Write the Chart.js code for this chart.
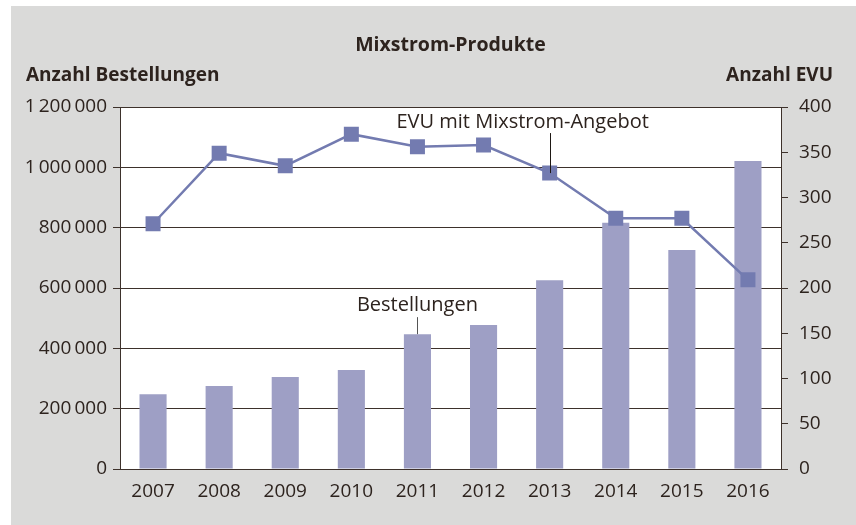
<!DOCTYPE html>
<html>
<head>
<meta charset="utf-8">
<script src="https://cdn.jsdelivr.net/npm/chart.js@4/dist/chart.umd.min.js"></script>
<style>
  html, body { margin: 0; padding: 0; background: #fff; }
  #box { position: absolute; left: 11px; top: 6px; width: 845px; height: 519px; background: #dadad9; }
  #plot { position: absolute; background: #ffffff; }
  #mix { position: absolute; left: 0; top: 0; }
</style>
</head>
<body>
<div id="box"><div id="plot"></div><canvas id="mix" width="845" height="519"></canvas></div>
<script>
const years = ['2007', '2008', '2009', '2010', '2011', '2012', '2013', '2014', '2015', '2016'];
const orders = [248000, 275000, 305000, 328000, 447000, 477000, 626000, 816000, 726000, 1021000];
const evuCount = [271, 349, 335, 370, 356, 358, 327, 277, 277, 209];

const chartTitle = 'Mixstrom-Produkte';
const leftTitle = 'Anzahl Bestellungen';
const rightTitle = 'Anzahl EVU';
const lineLabel = 'EVU mit Mixstrom-Angebot';
const barLabel = 'Bestellungen';

const textColor = '#2d231e';
const gridColor = '#3d312b';
const font = '"Open Sans", "DejaVu Sans", sans-serif';

const fmt = (v) => String(v).replace(/\B(?=(\d{3})+(?!\d))/g, '\u2009');

// white plot area: a div under the canvas, sized from the chart area
const plotBg = {
  id: 'plotBg',
  afterLayout(chart) {
    const a = chart.chartArea;
    const el = document.getElementById('plot');
    el.style.left = a.left + 'px';
    el.style.top = a.top + 'px';
    el.style.width = (a.right - a.left) + 'px';
    el.style.height = (a.bottom - a.top) + 'px';
  }
};

// titles and the two callouts
const labelsPlugin = {
  id: 'labels',
  afterDraw(chart) {
    const ctx = chart.ctx;
    const area = chart.chartArea;
    ctx.save();
    ctx.fillStyle = textColor;
    ctx.textBaseline = 'middle';
    ctx.font = 'bold 19.5px ' + font;
    ctx.textAlign = 'center';
    ctx.fillText(chartTitle, (area.left + area.right) / 2, 39);
    ctx.font = 'bold 19px ' + font;
    ctx.textAlign = 'left';
    ctx.fillText(leftTitle, 15, 70);
    ctx.textAlign = 'right';
    ctx.fillText(rightTitle, 822, 70);

    ctx.font = '20px ' + font;
    ctx.textAlign = 'center';
    ctx.strokeStyle = '#1e1814';
    ctx.lineWidth = 1;

    // line callout at 2013
    const p = chart.getDatasetMeta(0).data[6];
    ctx.fillText(lineLabel, p.x - 27, p.y - 51);
    ctx.beginPath();
    ctx.moveTo(Math.round(p.x) + 0.5, p.y - 40);
    ctx.lineTo(Math.round(p.x) + 0.5, p.y);
    ctx.stroke();

    // bar callout at 2011
    const b = chart.getDatasetMeta(1).data[4];
    ctx.fillText(barLabel, b.x, b.y - 29);
    ctx.strokeStyle = '#555';
    ctx.beginPath();
    ctx.moveTo(Math.round(b.x) + 0.5, b.y - 17);
    ctx.lineTo(Math.round(b.x) + 0.5, b.y);
    ctx.stroke();
    ctx.restore();
  }
};

new Chart(document.getElementById('mix'), {
  data: {
    labels: years,
    datasets: [
      {
        type: 'line',
        data: evuCount,
        yAxisID: 'y1',
        order: 0,
        borderColor: '#737bb0',
        borderWidth: 2.5,
        backgroundColor: '#737bb0',
        pointStyle: 'rect',
        pointRadius: 10.6,
        pointBorderWidth: 0,
        tension: 0
      },
      {
        type: 'bar',
        data: orders,
        yAxisID: 'y',
        order: 1,
        backgroundColor: '#9e9fc5',
        barPercentage: 0.41,
        categoryPercentage: 1
      }
    ]
  },
  options: {
    responsive: false,
    animation: false,
    devicePixelRatio: 1,
    layout: { padding: { top: 101, left: 0, right: 0, bottom: 0 } },
    plugins: { legend: { display: false }, tooltip: { enabled: false }, title: { display: false } },
    scales: {
      x: {
        offset: true,
        grid: { display: false },
        border: { display: true, color: gridColor, width: 1 },
        ticks: { color: textColor, padding: 3, font: { family: font, size: 19 } },
        afterFit: (s) => { s.height = 56; }
      },
      y: {
        position: 'left',
        min: 0,
        max: 1200000,
        grid: { color: gridColor, lineWidth: 1, tickLength: 7 },
        border: { display: true, color: gridColor, width: 1 },
        ticks: { stepSize: 200000, color: textColor, padding: 6, font: { family: font, size: 19 }, callback: (v) => fmt(v) },
        afterFit: (s) => { s.width = 109; }
      },
      y1: {
        position: 'right',
        min: 0,
        max: 400,
        grid: { drawOnChartArea: false, color: gridColor, tickLength: 7 },
        border: { display: true, color: gridColor, width: 1 },
        ticks: { stepSize: 50, color: textColor, padding: 11, font: { family: font, size: 19 } },
        afterFit: (s) => { s.width = 75; }
      }
    }
  },
  plugins: [plotBg, labelsPlugin]
});
</script>
</body>
</html>
